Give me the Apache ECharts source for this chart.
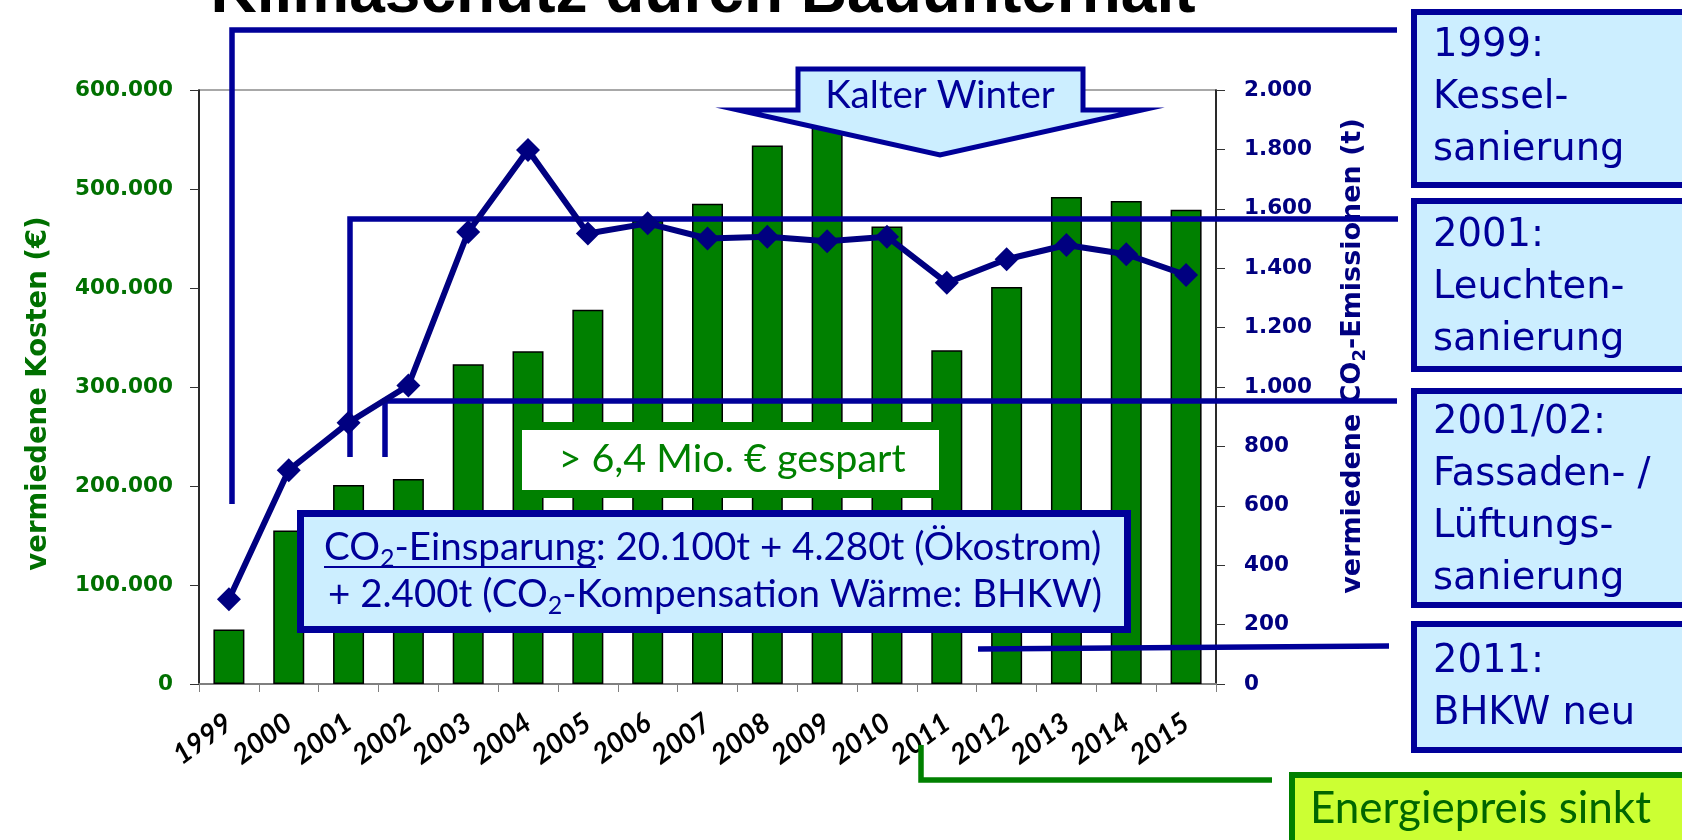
<!DOCTYPE html>
<html>
<head>
<meta charset="utf-8">
<title>Klimaschutz durch Bauunterhalt</title>
<script src="https://cdn.jsdelivr.net/npm/echarts@6/dist/echarts.min.js"></script>
<style>
  html, body { margin: 0; padding: 0; background: #fff; }
  #chart { width: 1682px; height: 840px; }
</style>
</head>
<body>
<div id="chart"></div>
<script>
// Jahre (Kategorien)
var jahre = ['1999', '2000', '2001', '2002', '2003', '2004', '2005', '2006', '2007',
  '2008', '2009', '2010', '2011', '2012', '2013', '2014', '2015'];
// vermiedene Kosten in Euro (Balken, linke Achse)
var kosten = [55000, 155000, 201000, 207000, 323000, 336000, 378000, 468000, 485000,
  544000, 565000, 462000, 337000, 401000, 492000, 488000, 479000];
// vermiedene CO2-Emissionen in t (Linie, rechte Achse)
var co2 = [285, 720, 880, 1005, 1522, 1798, 1517, 1551, 1500,
  1506, 1491, 1506, 1351, 1430, 1478, 1447, 1377];
// Achsenbereiche
var kostenMax = 600000, kostenSchritt = 100000;
var co2Max = 2000, co2Schritt = 200;
// Texte der Maßnahmen-Kästen rechts
var massnahmen = [
  '1999:\nKessel-\nsanierung',
  '2001:\nLeuchten-\nsanierung',
  '2001/02:\nFassaden- /\nLüftungs-\nsanierung',
  '2011:\nBHKW neu'
];

var blau = '#000099', hellblau = '#cceeff', gruen = '#008000', navy = '#000080';

// 600000 -> "600.000"
function tausender(v) {
  return String(Math.round(v)).replace(/\B(?=(\d{3})+(?!\d))/g, '.');
}

function text(x, y, str, font, fill, align, valign, z, extra) {
  var st = { text: str, font: font, fill: fill, textAlign: align, align: align,
    textVerticalAlign: valign, verticalAlign: valign };
  for (var k in extra) st[k] = extra[k];
  return { type: 'text', x: x, y: y, z: z, style: st };
}
function linie(points, color, width, z) {
  return { type: 'polyline', z: z, shape: { points: points },
    style: { stroke: color, lineWidth: width, fill: null, lineCap: 'butt', lineJoin: 'miter' } };
}
function kasten(x, y, w, h, fill, stroke, lw, z) {
  return { type: 'rect', z: z, shape: { x: x, y: y, width: w, height: h },
    style: { fill: fill, stroke: stroke, lineWidth: lw } };
}

var richCo2 = {
  n: { fontFamily: 'Lato', fontSize: 38.5, lineHeight: 46, fill: blau },
  s: { fontFamily: 'Lato', fontSize: 25, lineHeight: 16, fill: blau, verticalAlign: 'bottom' }
};
// Breite von "CO2-Einsparung" für die Unterstreichung
var mess = new echarts.graphic.Text({ style: { text: '{n|CO}{s|2}{n|-Einsparung}', rich: richCo2 } });
var ulBreite = mess.getBoundingRect().width;

var graphic = [];
// Titel (oben abgeschnitten)
graphic.push(text(703, -6, 'Klimaschutz durch Bauunterhalt', 'bold 64px "Liberation Sans"', '#000', 'center', 'middle', 10));

// Verbindungslinien zu den Kästen
graphic.push(linie([[232, 504], [232, 30], [1397, 30]], blau, 5.5, 4));
graphic.push(linie([[350, 457], [350, 219], [1398, 219]], blau, 5.5, 4));
graphic.push(linie([[385, 457], [385, 401], [1397, 401]], blau, 5.5, 4));
graphic.push(linie([[978, 649], [1389, 646]], blau, 5.5, 4));
graphic.push(linie([[921, 745], [921, 780], [1272, 780]], gruen, 5.5, 4));

// Maßnahmen-Kästen
var boxen = [[12, 173, 20], [201, 168, 210], [391, 214, 397], [624, 126, 636]];
boxen.forEach(function (b, i) {
  graphic.push(kasten(1414, b[0], 300, b[1], hellblau, blau, 6, 6));
  graphic.push(text(1433, b[2], massnahmen[i], '38.5px "DejaVu Sans"', blau, 'left', 'top', 7, { lineHeight: 52 }));
});

// Energiepreis sinkt
graphic.push(kasten(1292, 775, 420, 80, '#ccff33', gruen, 6, 6));
graphic.push(text(1310, 809, 'Energiepreis sinkt', '44px Lato', '#006600', 'left', 'middle', 7));

// Kalter Winter Pfeil
graphic.push({ type: 'polygon', z: 6,
  shape: { points: [[798, 69], [1083, 69], [1083, 110], [1142, 110], [940, 155], [738, 110], [798, 110]] },
  style: { fill: hellblau, stroke: blau, lineWidth: 5, lineJoin: 'miter' } });
graphic.push(text(940, 96, 'Kalter Winter', '38.5px Lato', blau, 'center', 'middle', 7));

// > 6,4 Mio. € gespart
graphic.push(kasten(518, 426, 425, 68, '#ffffff', gruen, 8, 6));
graphic.push(text(732, 459, '> 6,4 Mio. € gespart', '39.5px Lato', gruen, 'center', 'middle', 7));

// CO2-Einsparung
graphic.push(kasten(300.5, 513.5, 827, 116, hellblau, blau, 7, 6));
graphic.push(text(324, 548, '{n|CO}{s|2}{n|-Einsparung: 20.100t + 4.280t (Ökostrom)}', '38.5px Lato', blau, 'left', 'middle', 7, { rich: richCo2 }));
graphic.push(text(328, 595, '{n|+ 2.400t (CO}{s|2}{n|-Kompensation Wärme: BHKW)}', '38.5px Lato', blau, 'left', 'middle', 7, { rich: richCo2 }));
graphic.push(linie([[324, 567], [324 + ulBreite, 567]], blau, 2, 7));

var chart = echarts.init(document.getElementById('chart'), null, { renderer: 'canvas' });
var option = {
  backgroundColor: '#ffffff',
  animation: false,
  grid: {
    left: 199, right: 466, top: 90, bottom: 156,
    show: true, borderColor: '#8c8c8c', borderWidth: 1.5,
    containLabel: false, outerBoundsMode: 'none'
  },
  xAxis: {
    type: 'category',
    data: jahre,
    boundaryGap: true,
    axisLine: { show: true, lineStyle: { color: '#7f7f7f', width: 2 } },
    axisTick: { show: true, length: 8, lineStyle: { color: '#7f7f7f', width: 1 } },
    axisLabel: {
      interval: 0, rotate: 36, margin: 36,
      fontFamily: 'Lato', fontWeight: 'bold', fontStyle: 'italic', fontSize: 28, color: '#000'
    },
    splitLine: { show: false }
  },
  yAxis: [
    {
      type: 'value', position: 'left',
      min: 0, max: kostenMax, interval: kostenSchritt,
      name: 'vermiedene Kosten (€)', nameLocation: 'middle', nameRotate: 90, nameGap: 146,
      nameTextStyle: { color: '#007000', fontFamily: 'DejaVu Sans', fontWeight: 'bold', fontSize: 27.5, padding: [0, 13, 0, 0] },
      axisLine: { show: true, lineStyle: { color: '#000', width: 1.5 } },
      axisTick: { show: true, length: 9, lineStyle: { color: '#333' } },
      axisLabel: { margin: 26, formatter: tausender, color: '#007000', fontFamily: 'DejaVu Sans', fontWeight: 'bold', fontSize: 21.5 },
      splitLine: { show: false }
    },
    {
      type: 'value', position: 'right',
      min: 0, max: co2Max, interval: co2Schritt,
      name: '{a|vermiedene CO}{s|2}{a|-Emissionen (t)}', nameLocation: 'middle', nameRotate: 90, nameGap: 121,
      nameTextStyle: {
        padding: [0, 0, 0, 62],
        rich: {
          a: { color: navy, fontFamily: 'DejaVu Sans', fontWeight: 'bold', fontSize: 27, lineHeight: 32 },
          s: { color: navy, fontFamily: 'DejaVu Sans', fontWeight: 'bold', fontSize: 18, lineHeight: 14, verticalAlign: 'bottom' }
        }
      },
      axisLine: { show: true, lineStyle: { color: '#000', width: 1.5 } },
      axisTick: { show: true, length: 9, lineStyle: { color: '#333' } },
      axisLabel: { margin: 28, formatter: tausender, color: navy, fontFamily: 'DejaVu Sans', fontWeight: 'bold', fontSize: 21.5 },
      splitLine: { show: false }
    }
  ],
  series: [
    {
      name: 'vermiedene Kosten', type: 'bar', yAxisIndex: 0, data: kosten,
      barWidth: 31, z: 2,
      itemStyle: { color: gruen, borderColor: '#000', borderWidth: 1.5 }
    },
    {
      name: 'vermiedene CO2-Emissionen', type: 'line', yAxisIndex: 1, data: co2,
      symbol: 'diamond', symbolSize: 24, showAllSymbol: true, z: 5,
      lineStyle: { color: navy, width: 6 },
      itemStyle: { color: navy }
    }
  ],
  graphic: { elements: graphic }
};
chart.setOption(option);
</script>
</body>
</html>
